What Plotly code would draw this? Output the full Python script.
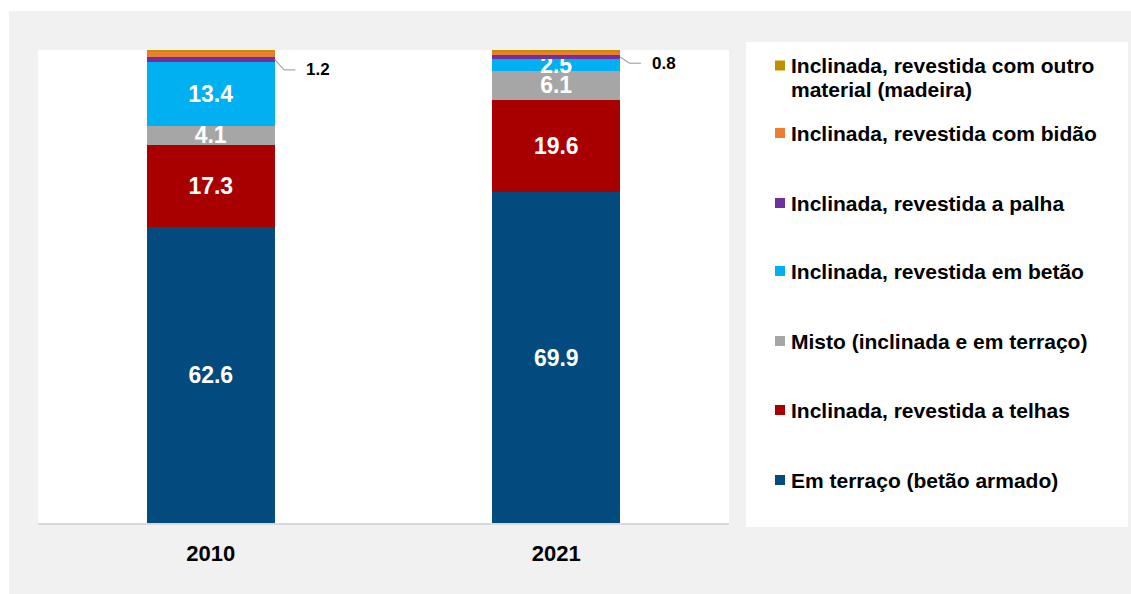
import plotly.graph_objects as go

# Roof type of dwellings (%), 2010 vs 2021
years = ["2010", "2021"]

series_names = [
    "Em terraço (betão armado)",
    "Inclinada, revestida a telhas",
    "Misto (inclinada e em terraço)",
    "Inclinada, revestida em betão",
    "Inclinada, revestida a palha",
    "Inclinada, revestida com bidão",
    "Inclinada, revestida com outro<br>material (madeira)",
]
em_terraco = [62.6, 69.9]
telhas = [17.3, 19.6]
misto = [4.1, 6.1]
betao = [13.4, 2.5]
palha = [1.2, 0.8]
bidao = [1.0, 0.7]
madeira = [0.4, 0.4]

series_values = [em_terraco, telhas, misto, betao, palha, bidao, madeira]
colors = ["#034A7E", "#A80000", "#A6A6A6", "#00B0F0", "#7030A0", "#ED7D31", "#BF9000"]
labelled_inside = [True, True, True, True, False, False, False]

FONT = "Arial, 'Liberation Sans', sans-serif"
W, H = 1131, 594
L, R, T, B = 38, 402, 50, 71
PW, PH = W - L - R, H - T - B


def px_x(px):
    return (px - L) / PW


def px_y(py):
    return (H - B - py) / PH


fig = go.Figure()
for name, vals, col, inside in zip(series_names, series_values, colors, labelled_inside):
    fig.add_trace(go.Bar(
        x=years,
        y=vals,
        name=name.replace("<br>", " "),
        marker=dict(color=col, line=dict(width=0)),
        width=0.37,
        text=[f"{v:.1f}" for v in vals] if inside else None,
        textposition="inside" if inside else "none",
        insidetextanchor="middle",
        textangle=0,
        constraintext="none",
        textfont=dict(family=FONT, size=23, color="white", weight="bold"),
        showlegend=False,
        hoverinfo="skip",
    ))

shapes = []
annotations = []

# grey frame behind everything, white strips at top and left edge
shapes.append(dict(type="rect", xref="paper", yref="paper",
                   x0=px_x(0), x1=px_x(W), y0=px_y(0), y1=px_y(11),
                   fillcolor="white", line=dict(width=0), layer="below"))
shapes.append(dict(type="rect", xref="paper", yref="paper",
                   x0=px_x(0), x1=px_x(9), y0=px_y(H), y1=px_y(0),
                   fillcolor="white", line=dict(width=0), layer="below"))

# leader lines and values for the thin "palha" segment
base_below_palha = [em_terraco[i] + telhas[i] + misto[i] + betao[i] for i in range(2)]
elbow_drop = [2.2, 1.3]
for i in range(2):
    y_mid = base_below_palha[i] + palha[i] / 2
    y_el = y_mid - elbow_drop[i]
    shapes.append(dict(type="line", xref="x", yref="y",
                       x0=i + 0.185, y0=y_mid, x1=i + 0.212, y1=y_el,
                       line=dict(color="#A6A6A6", width=1.2)))
    shapes.append(dict(type="line", xref="x", yref="y",
                       x0=i + 0.212, y0=y_el, x1=i + 0.245, y1=y_el,
                       line=dict(color="#A6A6A6", width=1.2)))
    annotations.append(dict(x=i + 0.27, y=y_el, xref="x", yref="y",
                            text=f"{palha[i]:.1f}", showarrow=False,
                            xanchor="left", yanchor="middle",
                            font=dict(family=FONT, size=17, color="black", weight="bold")))

# legend panel
shapes.append(dict(type="rect", xref="paper", yref="paper",
                   x0=px_x(746), x1=px_x(1128), y0=px_y(527), y1=px_y(42),
                   fillcolor="white", line=dict(width=0), layer="below"))

legend_rows = [480, 410, 341, 271, 203, 133, 65.5]
legend_line_gap = 23.5
for name, col, ry in zip(series_names, colors, legend_rows):
    shapes.append(dict(type="rect", xref="paper", yref="paper",
                       x0=px_x(775), x1=px_x(785), y0=px_y(ry + 5), y1=px_y(ry - 5),
                       fillcolor=col, line=dict(width=0)))
    for k, line in enumerate(name.split("<br>")):
        annotations.append(dict(x=px_x(789), y=px_y(ry + k * legend_line_gap),
                                xref="paper", yref="paper",
                                text=line, showarrow=False, align="left",
                                xanchor="left", yanchor="middle",
                                font=dict(family=FONT, size=21, color="black", weight="bold")))

fig.update_layout(
    width=W, height=H,
    margin=dict(l=L, r=R, t=T, b=B, pad=0),
    barmode="stack",
    paper_bgcolor="#F1F1F1",
    plot_bgcolor="white",
    font=dict(family=FONT, color="black"),
    shapes=shapes,
    annotations=annotations,
    showlegend=False,
    xaxis=dict(type="category", range=[-0.5, 1.5], showgrid=False, zeroline=False,
               showline=True, linecolor="#D9D9D9", linewidth=2, ticks="",
               ticklabelstandoff=10,
               tickfont=dict(family=FONT, size=22, color="black", weight="bold")),
    yaxis=dict(range=[0, 100], visible=False, showgrid=False, zeroline=False),
)

fig.write_html("out.html")
